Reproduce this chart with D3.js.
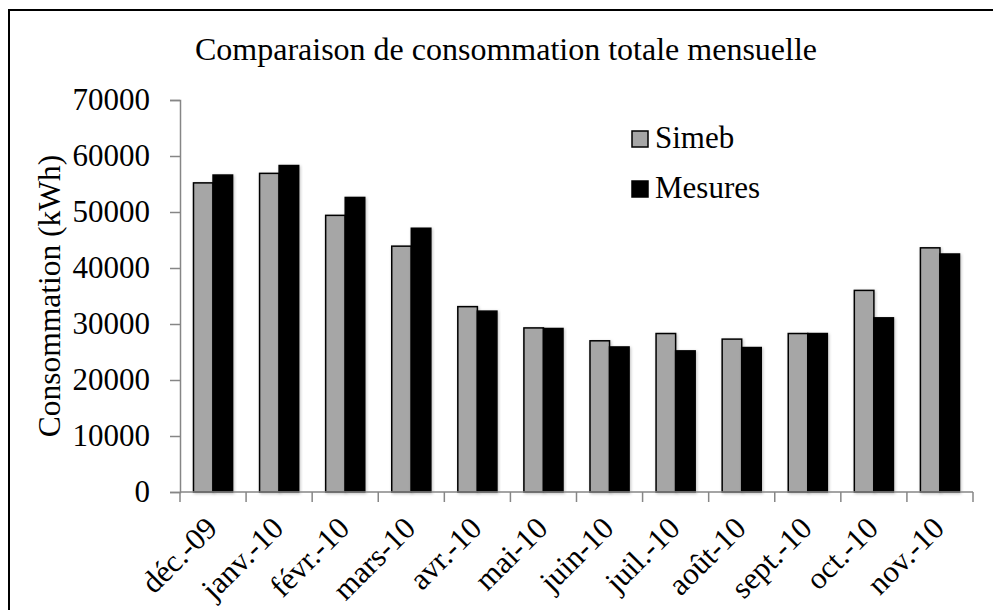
<!DOCTYPE html>
<html>
<head>
<meta charset="utf-8">
<script src="https://cdn.jsdelivr.net/npm/d3@7"></script>
<style>
  body { margin: 0; background: #fff; }
  svg text { font-family: "Liberation Serif", "Times New Roman", serif; fill: #000; }
</style>
</head>
<body>
<svg id="chart" width="993" height="610"></svg>
<script>
var months = ["déc.-09", "janv.-10", "févr.-10", "mars-10", "avr.-10", "mai-10",
              "juin-10", "juil.-10", "août-10", "sept.-10", "oct.-10", "nov.-10"];
var seriesNames = ["Simeb", "Mesures"];
var simeb = [55200, 56900, 49400, 43900, 33100, 29300, 27000, 28300, 27300, 28300, 36000, 43600];
var mesures = [56600, 58300, 52600, 47100, 32300, 29200, 25900, 25200, 25800, 28300, 31100, 42500];
var yTicks = [0, 10000, 20000, 30000, 40000, 50000, 60000, 70000];

var colors = { Simeb: "#a6a6a6", Mesures: "#000000" };
var seriesValues = { Simeb: simeb, Mesures: mesures };

var svg = d3.select("#chart");

///////////////////////////////////////////////////////////////////////////////

// drop shadow like the one Excel puts under the bars
var defs = svg.append("defs");
defs.append("filter")
    .attr("id", "shadow")
    .attr("x", "-20%").attr("y", "-5%")
    .attr("width", "140%").attr("height", "110%")
  .append("feDropShadow")
    .attr("dx", 1).attr("dy", 1)
    .attr("stdDeviation", 1.5)
    .attr("flood-color", "#000")
    .attr("flood-opacity", 0.25);

// chart frame (runs off the right and bottom of the picture)
svg.append("rect")
    .attr("x", 9).attr("y", 10)
    .attr("width", 1100).attr("height", 700)
    .style("fill", "none")
    .style("stroke", "#000")
    .style("stroke-width", 2);

var plotLeft = 180, plotRight = 973, plotTop = 100, plotBottom = 492;

var x = d3.scaleBand().domain(months).range([plotLeft, plotRight]).padding(0);
var xs = d3.scaleBand().domain(seriesNames)
    .range([0, x.bandwidth()])
    .paddingInner(0)
    .paddingOuter(0.69);
var y = d3.scaleLinear().domain([0, 70000]).range([plotBottom, plotTop]);

///////////////////////////////////////////////////////////////////////////////

svg.append("text")
    .attr("x", 506).attr("y", 60)
    .attr("text-anchor", "middle")
    .style("font-size", "32px")
    .text("Comparaison de consommation totale mensuelle");

svg.append("text")
    .attr("transform", "translate(60," + ((plotTop + plotBottom) / 2) + ") rotate(-90)")
    .attr("text-anchor", "middle")
    .style("font-size", "31.5px")
    .text("Consommation (kWh)");

// y axis
var yAxis = svg.append("g")
    .attr("transform", "translate(" + plotLeft + ",0)")
    .call(d3.axisLeft(y).tickValues(yTicks).tickSize(10).tickPadding(20)
          .tickFormat(d3.format("d")));
yAxis.selectAll("text")
    .style("font-size", "31px")
    .style("font-family", "'Liberation Serif', serif");
yAxis.select(".domain").style("stroke", "#868686").style("stroke-width", 1.5);
yAxis.selectAll(".tick line").style("stroke", "#868686").style("stroke-width", 1.5);

// bars
var groups = svg.append("g").selectAll("g")
  .data(months)
  .join("g")
    .attr("transform", function (d) { return "translate(" + x(d) + ",0)"; });

groups.selectAll("rect")
  .data(function (d, i) {
    return seriesNames.map(function (s) {
      return { series: s, value: seriesValues[s][i] };
    });
  })
  .join("rect")
    .attr("x", function (d) { return xs(d.series); })
    .attr("y", function (d) { return y(d.value); })
    .attr("width", xs.bandwidth())
    .attr("height", function (d) { return plotBottom - y(d.value); })
    .attr("filter", "url(#shadow)")
    .style("fill", function (d) { return colors[d.series]; })
    .style("stroke", "#000")
    .style("stroke-width", 1.5);

// x axis, ticks between categories
var xAxis = svg.append("g")
    .attr("transform", "translate(0," + plotBottom + ")");
xAxis.append("line")
    .attr("x1", plotLeft).attr("x2", plotRight)
    .attr("y1", 0).attr("y2", 0);
xAxis.selectAll("line.tick")
  .data(months.concat([null]))
  .join("line")
    .attr("class", "tick")
    .attr("x1", function (d, i) { return plotLeft + i * x.step(); })
    .attr("x2", function (d, i) { return plotLeft + i * x.step(); })
    .attr("y1", 0).attr("y2", 10);
xAxis.selectAll("line")
    .style("stroke", "#868686")
    .style("stroke-width", 1.5);

svg.append("g").selectAll("text")
  .data(months)
  .join("text")
    .attr("transform", function (d) {
      return "translate(" + (x(d) + x.bandwidth() / 2 + 6) + "," + (plotBottom + 38) + ") rotate(-45)";
    })
    .attr("text-anchor", "end")
    .style("font-size", "31px")
    .text(function (d) { return d; });

///////////////////////////////////////////////////////////////////////////////

// legend
var legend = svg.append("g").selectAll("g")
  .data(seriesNames)
  .join("g")
    .attr("transform", function (d, i) { return "translate(632," + (131 + i * 50) + ")"; });

legend.append("rect")
    .attr("width", 16).attr("height", 16)
    .style("fill", function (d) { return colors[d]; })
    .style("stroke", "#000")
    .style("stroke-width", 1.5);

legend.append("text")
    .attr("x", 23).attr("y", 17)
    .style("font-size", "31px")
    .text(function (d) { return d; });
</script>
</body>
</html>
